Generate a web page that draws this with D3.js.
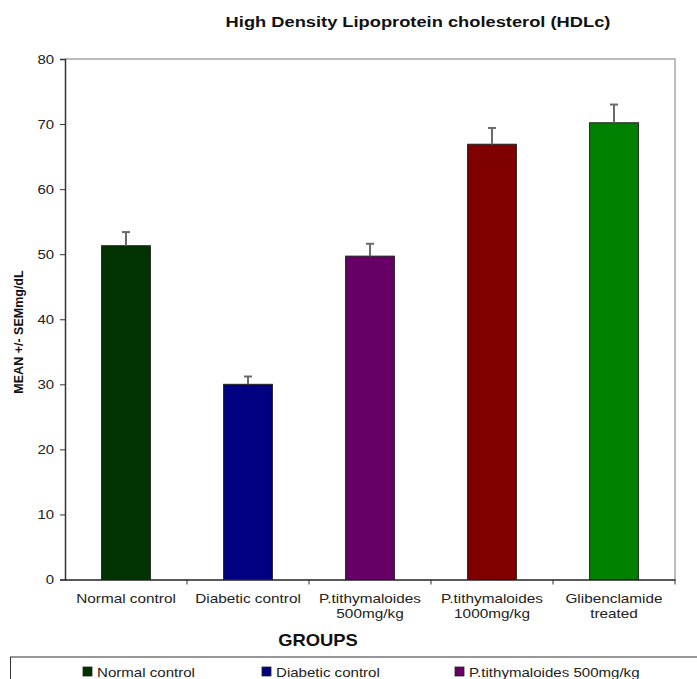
<!DOCTYPE html>
<html><head><meta charset="utf-8">
<script src="https://cdn.jsdelivr.net/npm/d3@7"></script>
<style>body{margin:0;background:#fff;} svg{display:block;font-family:Arial,"Liberation Sans",sans-serif;}</style>
</head><body>
<svg id="c" width="697" height="679"></svg>
<script>
const categories = ["Normal control","Diabetic control","P.tithymaloides 500mg/kg","P.tithymaloides 1000mg/kg","Glibenclamide treated"];
const tickLines = [["Normal control"],["Diabetic control"],["P.tithymaloides","500mg/kg"],["P.tithymaloides","1000mg/kg"],["Glibenclamide","treated"]];
const means = [51.3, 30.0, 49.7, 66.9, 70.2];
const sems = [2.1, 1.2, 1.9, 2.5, 2.8];
const colors = ["#003300","#000080","#660066","#800000","#008000"];
const yTicks = [0,10,20,30,40,50,60,70,80];
const legendItems = ["Normal control","Diabetic control","P.tithymaloides 500mg/kg"];

const svg = d3.select("#c");
const L=65, R=675, T=59, B=579.5;
const x = d3.scaleBand().domain(categories).range([L,R]).paddingInner(0.6).paddingOuter(0.3);
const xb = d3.scaleBand().domain(categories).range([L,R]);
const y = d3.scaleLinear().domain([0,80]).range([B,T]);

// stretched text helper
function stext(parent, px, py, str, opts){
  const g = parent.append("g").attr("transform",`translate(${px},${py}) scale(${opts.sx||1.17},1)`);
  return g.append("text").attr("x",0).attr("y",0)
    .attr("text-anchor",opts.anchor||"start")
    .attr("font-size",opts.size||13)
    .attr("font-weight",opts.weight||"normal")
    .attr("fill",opts.fill||"#222").text(str);
}

// title
stext(svg,418,27,"High Density Lipoprotein cholesterol (HDLc)",{anchor:"middle",size:15.5,weight:"bold",fill:"#111",sx:1.18});

// plot frame (top/right gray)
svg.append("path").attr("d",`M${L},${T}H${R}V${B}`).attr("fill","none").attr("stroke","#bdbdbd").attr("stroke-width",2);

// bars
svg.selectAll("rect.bar").data(categories).join("rect")
  .attr("x",d=>x(d)).attr("width",x.bandwidth())
  .attr("y",(d,i)=>y(means[i])).attr("height",(d,i)=>y(0)-y(means[i]))
  .attr("fill",(d,i)=>colors[i]).attr("stroke","#222").attr("stroke-width",1);

// error bars
const eb = svg.append("g").attr("stroke","#6a6a6a").attr("stroke-width",2);
categories.forEach((c,i)=>{
  const cx = x(c)+x.bandwidth()/2;
  eb.append("line").attr("x1",cx).attr("x2",cx).attr("y1",y(means[i])).attr("y2",y(means[i]+sems[i]));
  eb.append("line").attr("x1",cx-4).attr("x2",cx+4).attr("y1",y(means[i]+sems[i])).attr("y2",y(means[i]+sems[i]));
});

// y axis
const ya = svg.append("g").attr("transform",`translate(${L},0)`)
  .call(d3.axisLeft(y).tickValues(yTicks).tickSize(5).tickFormat(""));
ya.select(".domain").attr("stroke","#333").attr("stroke-width",1.5);
ya.selectAll(".tick line").attr("stroke","#333");
yTicks.forEach(v=>stext(svg,L-11,y(v)+4.5,String(v),{anchor:"end",size:13,sx:1.15}));

// x axis
const xa = svg.append("g").attr("transform",`translate(0,${B})`)
  .call(d3.axisBottom(xb).tickSize(0).tickFormat(""));
xa.select(".domain").attr("stroke","#222").attr("stroke-width",1.5);
xb.domain().forEach((c,i)=>{
  const bx = xb(c);
  if(i>0) svg.append("line").attr("x1",bx).attr("x2",bx).attr("y1",B).attr("y2",B+5).attr("stroke","#333");
});
svg.append("line").attr("x1",R).attr("x2",R).attr("y1",B).attr("y2",B+5).attr("stroke","#333");
categories.forEach((c,i)=>{
  tickLines[i].forEach((s,j)=>stext(svg,xb(c)+xb.bandwidth()/2,603+j*14.5,s,{anchor:"middle",size:13,sx:1.18}));
});

// axis titles
stext(svg,318,646,"GROUPS",{anchor:"middle",size:16,weight:"bold",fill:"#111",sx:1.15});
svg.append("text").attr("transform","translate(23,332) rotate(-90)").attr("text-anchor","middle")
  .attr("font-size",12.5).attr("font-weight","bold").attr("fill","#111").text("MEAN +/- SEMmg/dL");

// legend
svg.append("rect").attr("x",10.5).attr("y",657).attr("width",700).attr("height",40)
  .attr("fill","#fff").attr("stroke","#333").attr("stroke-width",1);
const lx = [83,262,455];
legendItems.forEach((s,i)=>{
  svg.append("rect").attr("x",lx[i]).attr("y",667).attr("width",9).attr("height",9)
    .attr("fill",colors[i]).attr("stroke","#222").attr("stroke-width",0.8);
  stext(svg,lx[i]+14,677,s,{size:13,sx:1.16});
});
</script>
</body></html>
